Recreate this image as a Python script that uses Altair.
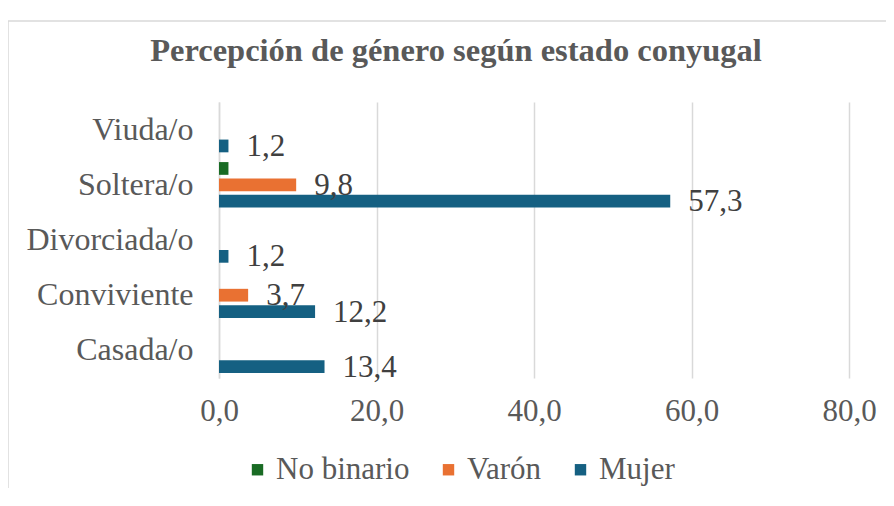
import altair as alt
import pandas as pd

categories = ["Viuda/o", "Soltera/o", "Divorciada/o", "Conviviente", "Casada/o"]
series = ["No binario", "Varón", "Mujer"]
no_binario = [None, 1.2, None, None, None]
varon = [None, 9.8, None, 3.7, None]
mujer = [1.2, 57.3, 1.2, 12.2, 13.4]
labeled_series = ["Varón", "Mujer"]
colors = ["#196B24", "#E97132", "#156082"]
x_ticks = [0, 20, 40, 60, 80]
title_text = "Percepción de género según estado conyugal"

rows = []
for s, vals in zip(series, [no_binario, varon, mujer]):
    for c, v in zip(categories, vals):
        if v is not None:
            rows.append({"cat": c, "serie": s, "valor": v,
                         "etiqueta": f"{v:.1f}".replace(".", ","),
                         "mostrar": s in labeled_series})
df = pd.DataFrame(rows)

FONT = "Liberation Serif"
FS = 31

y_enc = alt.Y("cat:N", sort=categories, title=None,
              scale=alt.Scale(paddingInner=0.11, paddingOuter=0.055),
              axis=alt.Axis(labelFont=FONT, labelFontSize=32, labelColor="#595959",
                            labelPadding=26, ticks=False, domainColor="#D9D9D9",
                            domainWidth=1.5, labelLimit=300))
yoff_enc = alt.YOffset("serie:N", sort=series,
                       scale=alt.Scale(paddingInner=0.22, paddingOuter=0.113))
x_enc = alt.X("valor:Q", title=None,
              scale=alt.Scale(domain=[0, 80], nice=False),
              axis=alt.Axis(values=x_ticks, labelFont=FONT, labelFontSize=FS,
                            labelColor="#595959", labelPadding=18, ticks=False,
                            domain=False, gridColor="#D9D9D9", gridWidth=1.5,
                            labelFlush=False,
                            labelExpr="replace(format(datum.value, '.1f'), '.', ',')"))

bars = alt.Chart(df).mark_bar().encode(
    x=x_enc, y=y_enc, yOffset=yoff_enc,
    color=alt.Color("serie:N", sort=series,
                    scale=alt.Scale(domain=series, range=colors),
                    legend=alt.Legend(title=None, orient="none", direction="horizontal",
                                      legendX=23, legendY=352, symbolType="square",
                                      symbolSize=130, symbolStrokeWidth=0,
                                      labelFont=FONT, labelFontSize=FS,
                                      labelColor="#595959", columnPadding=23,
                                      labelOffset=3))
)

labels = alt.Chart(df).transform_filter("datum.mostrar").mark_text(
    align="left", baseline="middle", dx=18, dy=1, font=FONT, fontSize=FS, color="#404040"
).encode(x="valor:Q", y=alt.Y("cat:N", sort=categories), yOffset=alt.YOffset("serie:N", sort=series),
         text="etiqueta:N")

one_row = pd.DataFrame({"k": [0]})
border_left = alt.Chart(one_row).mark_rule(color="#D9D9D9", strokeWidth=1.5).encode(
    x=alt.value(-211), y=alt.value(-81), y2=alt.value(420))
border_top = alt.Chart(one_row).mark_rule(color="#D9D9D9", strokeWidth=1.5).encode(
    x=alt.value(-211), x2=alt.value(700), y=alt.value(-81))
title = alt.Chart(one_row).mark_text(
    font=FONT, fontSize=32.5, fontWeight="bold", color="#595959",
    align="center", baseline="alphabetic"
).encode(x=alt.value(237), y=alt.value(-41), text=alt.value(title_text))

chart = alt.layer(border_left, border_top, title, bars, labels).properties(
    width=630, height=276,
    autosize=alt.AutoSizeParams(type="none"),
    padding={"left": 211, "top": 94, "right": 37, "bottom": 110},
).configure_view(stroke=None)

chart.save("out.html", embed_options={"renderer": "svg", "actions": False})
